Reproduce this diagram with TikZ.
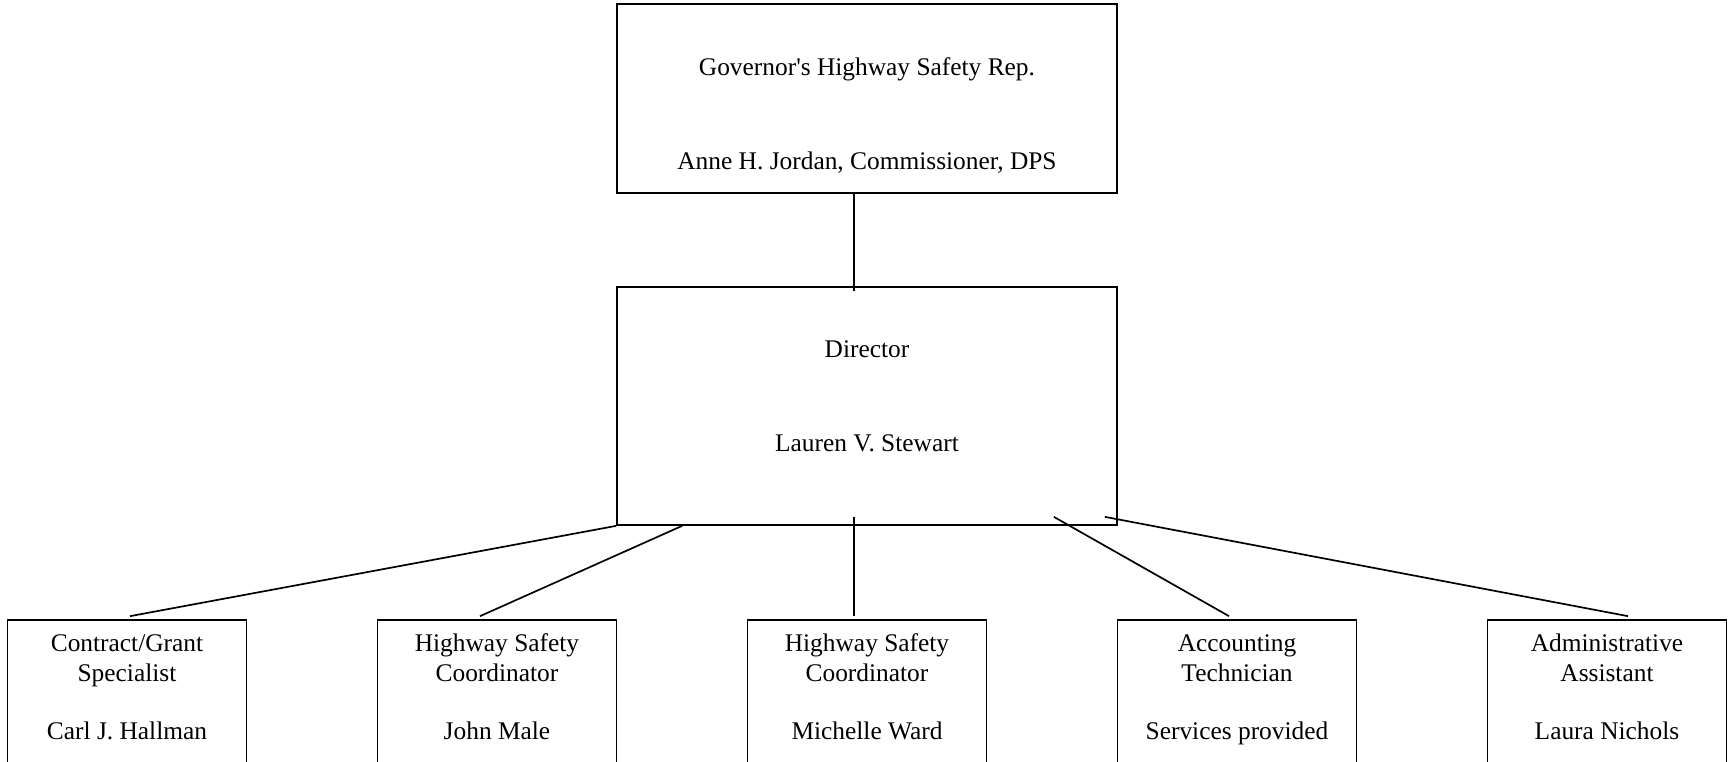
\documentclass[tikz,border=0pt]{standalone}
\usepackage{fontspec}
\setmainfont{Liberation Serif}
\usetikzlibrary{positioning}

\begin{document}
\begin{tikzpicture}[x=0.5pt,y=-0.5pt,node distance=185pt,on grid,line width=0.85pt,
  every node/.style={font=\fontsize{12.7}{15}\selectfont},
  post/.style={draw,align=center,inner sep=0pt,minimum width=119.5pt,minimum height=100pt},
  head/.style={post,minimum width=250pt}]
  \clip (0,0) rectangle (1733,761);
  \node[head,minimum height=94.5pt] (gov) at (867,98.5)
    {~\\[10.5pt]Governor\textquotesingle s Highway Safety Rep.\\[32pt]Anne H. Jordan, Commissioner, DPS};
  \node[head,minimum height=119pt] (dir) [below=153.75pt of gov]
    {Director\\[32pt]Lauren V. Stewart\\[-5pt]~};
  \node[post] (ward) [below=157pt of dir]
    {Highway Safety\\Coordinator\\[14pt]Michelle Ward\\[18pt]~};
  \node[post] (male) [left=of ward]
    {Highway Safety\\Coordinator\\[14pt]John Male\\[18pt]~};
  \node[post] (hallman) [left=of male]
    {Contract/Grant\\Specialist\\[14pt]Carl J. Hallman\\[18pt]~};
  \node[post] (acct) [right=of ward]
    {Accounting\\Technician\\[14pt]Services provided\\[18pt]~};
  \node[post] (nichols) [right=of acct]
    {Administrative\\Assistant\\[14pt]Laura Nichols\\[18pt]~};
  \draw ([xshift=-6.5pt]gov.south) -- ([xshift=-6.5pt,yshift=-2.5pt]dir.north);
  \draw (dir.south west) -- ([xshift=1.5pt,yshift=1.5pt]hallman.north);
  \draw ([xshift=33pt]dir.south west) -- ([xshift=-8.5pt,yshift=1.5pt]male.north);
  \draw ([xshift=-6.5pt,yshift=4.5pt]dir.south) -- ([xshift=-6.5pt,yshift=1.5pt]ward.north);
  \draw ([xshift=-32pt,yshift=4.5pt]dir.south east) -- ([xshift=-4pt,yshift=1.5pt]acct.north);
  \draw ([xshift=-6.5pt,yshift=4.5pt]dir.south east) -- ([xshift=10.5pt,yshift=1.5pt]nichols.north);
\end{tikzpicture}
\end{document}
